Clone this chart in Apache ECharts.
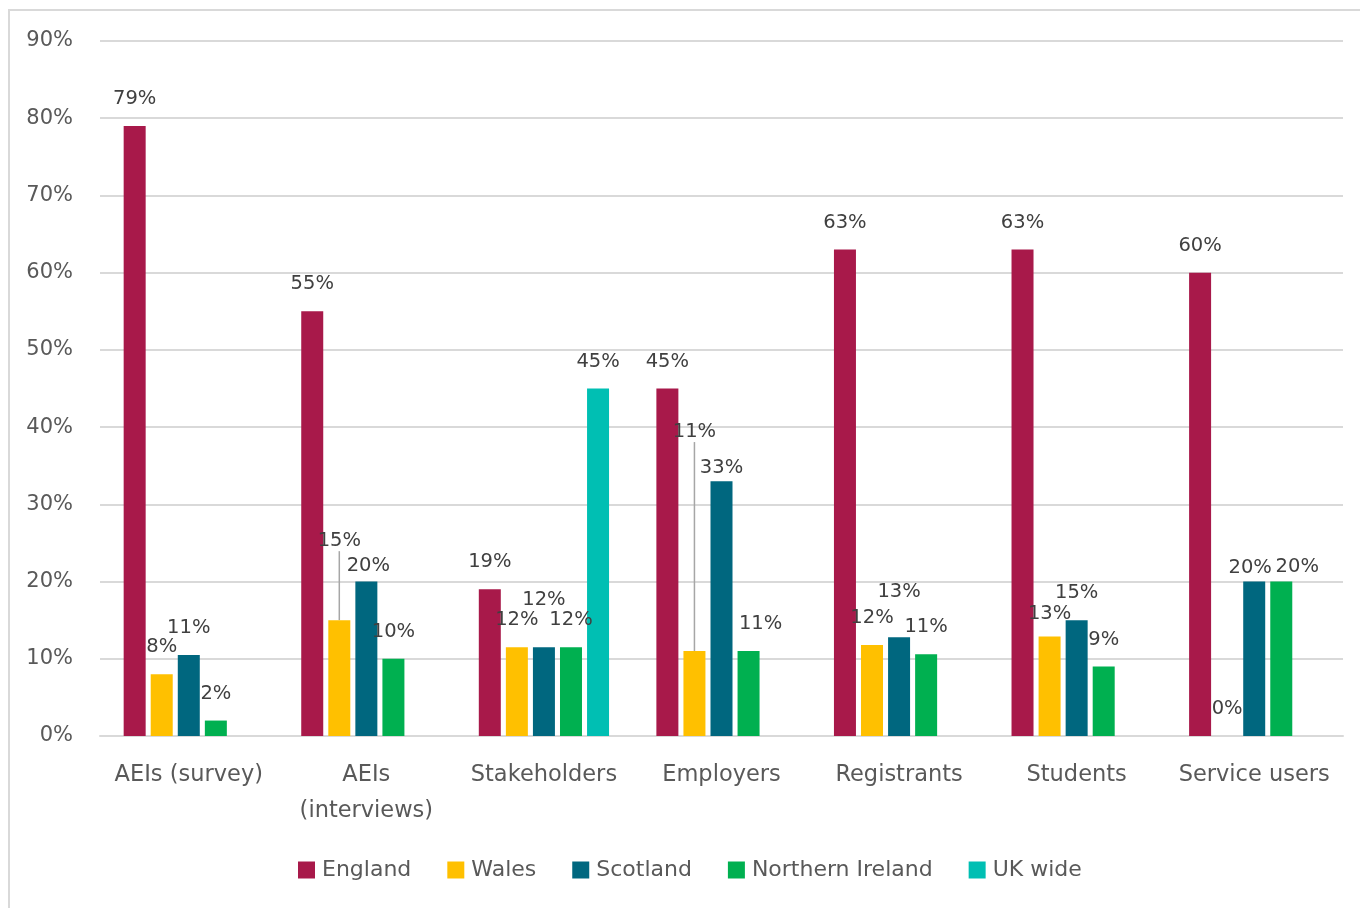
<!DOCTYPE html>
<html><head><meta charset="utf-8">
<script src="https://cdn.jsdelivr.net/npm/echarts@6/dist/echarts.min.js"></script>
<style>html,body{margin:0;padding:0;background:#fff;overflow:hidden}#c{width:1360px;height:908px}</style>
</head><body><div id="c"></div>
<script>
var categories = ['AEIs (survey)', 'AEIs\n(interviews)', 'Stakeholders', 'Employers', 'Registrants', 'Students', 'Service users'];
var england = [79, 55, 19, 45, 63, 63, 60];
var wales = [8, 15, 11.5, 11, 11.8, 12.9, 0];
var scotland = [10.5, 20, 11.5, 33, 12.8, 15, 20];
var northernIreland = [2, 10, 11.5, 11, 10.6, 9, 20];
var ukWide = [null, null, 45, null, null, null, null];
var seriesNames = ['England', 'Wales', 'Scotland', 'Northern Ireland', 'UK wide'];
var colors = ['#A8194A', '#FFC000', '#00677F', '#00B050', '#00BFB3'];
var yTicks = [0, 90, 10];

// label displacement (layout only): key "series-index" -> [dx, dy]
var labelShift = {
  '1-1': [0, -52], '2-1': [2, 11],
  '2-2': [0, -20],
  '1-3': [0, -192], '2-3': [0, 14], '3-3': [12, 0],
  '2-4': [0, -18],
  '1-5': [0, 5],
  '2-6': [-4, 13], '3-6': [16, 12]
};
var leader = {'1-1': true, '1-3': true};

var font = 'DejaVu Sans';
var allData = [england, wales, scotland, northernIreland, ukWide];
var series = allData.map(function (arr, s) {
  return {
    name: seriesNames[s],
    type: 'bar',
    barWidth: 22,
    barGap: '23%',
    barCategoryGap: '27%',
    itemStyle: {color: colors[s]},
    data: arr.map(function (v, i) {
      var item = {value: v};
      if (leader[s + '-' + i]) item.labelLine = {show: true, lineStyle: {color: '#a6a6a6', width: 1.5}};
      return item;
    }),
    label: {
      show: true, position: 'top', distance: 17,
      fontFamily: font, fontSize: 19.5, color: '#404040',
      formatter: function (p) { return p.value == null ? '' : Math.round(p.value) + '%'; }
    },
    labelLine: {show: false}
  };
});

var chart = echarts.init(document.getElementById('c'), null, {renderer: 'canvas'});
chart.setOption({
  animation: false,
  textStyle: {fontFamily: font},
  graphic: [{
    type: 'rect', shape: {x: 9, y: 10, width: 3000, height: 3000},
    style: {fill: 'none', stroke: '#d9d9d9', lineWidth: 2}, silent: true, z: -1
  }],
  grid: {left: 100, right: 17, top: 41, bottom: 172, containLabel: false},
  legend: {
    bottom: 27, left: 298,
    itemWidth: 17, itemHeight: 17, itemGap: 36, icon: 'rect', padding: 0,
    textStyle: {fontFamily: font, fontSize: 22, color: '#595959', padding: [0, 0, 0, 2]},
    data: seriesNames
  },
  xAxis: {
    type: 'category', data: categories,
    axisLine: {show: true, lineStyle: {color: '#d9d9d9', width: 2}},
    axisTick: {show: false},
    axisLabel: {interval: 0, fontFamily: font, fontSize: 22.5, color: '#595959', margin: 21, lineHeight: 36}
  },
  yAxis: {
    type: 'value', min: yTicks[0], max: yTicks[1], interval: yTicks[2],
    axisLine: {show: false}, axisTick: {show: false},
    splitLine: {lineStyle: {color: '#d9d9d9', width: 2}},
    axisLabel: {fontFamily: font, fontSize: 21, color: '#595959', margin: 27, formatter: '{value}%'}
  },
  labelLayout: function (p) {
    var k = p.seriesIndex + '-' + p.dataIndex;
    var d = labelShift[k];
    if (!d) return {};
    return {dx: d[0], dy: d[1]};
  },
  series: series
});
</script></body></html>
